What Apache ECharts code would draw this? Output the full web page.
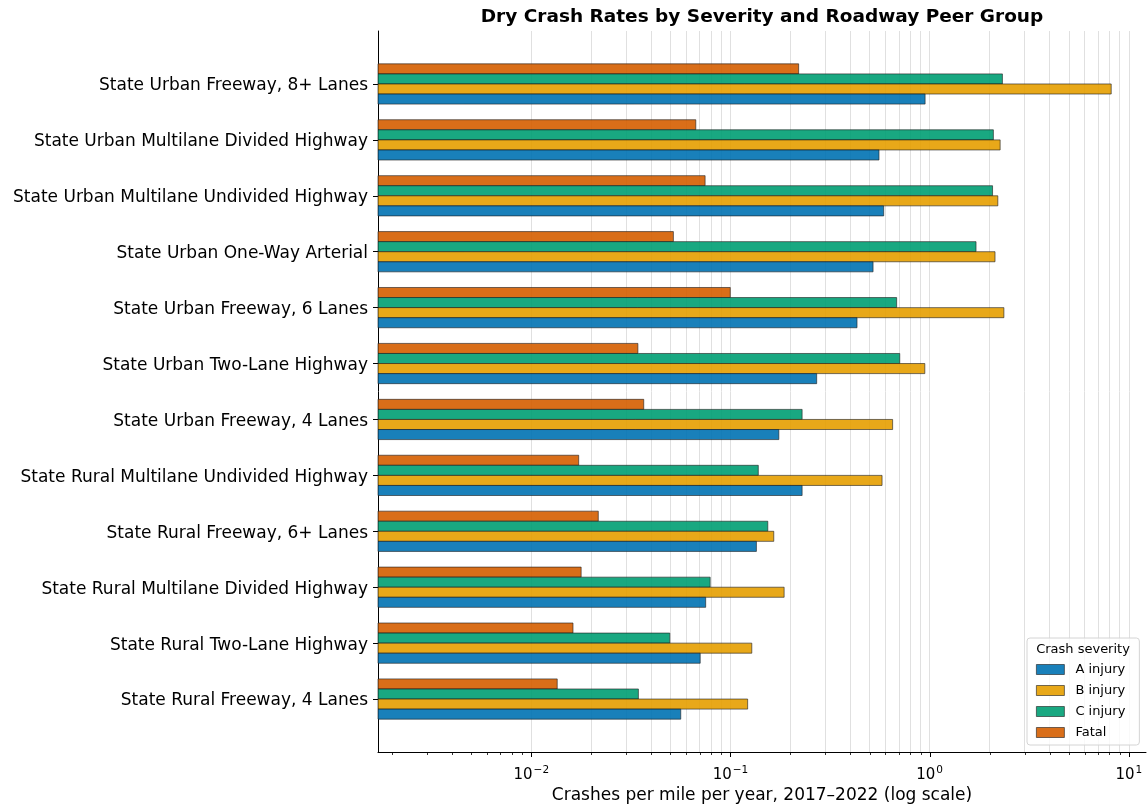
<!DOCTYPE html>
<html>
<head>
<meta charset="utf-8">
<script src="https://cdn.jsdelivr.net/npm/echarts@6/dist/echarts.min.js"></script>
<style>
  html, body { margin: 0; padding: 0; background: #fff; }
  #chart { width: 1148px; height: 805px; }
</style>
</head>
<body>
<div id="chart"></div>
<script>
// peer groups, top to bottom
const categories = [
  'State Urban Freeway, 8+ Lanes',
  'State Urban Multilane Divided Highway',
  'State Urban Multilane Undivided Highway',
  'State Urban One-Way Arterial',
  'State Urban Freeway, 6 Lanes',
  'State Urban Two-Lane Highway',
  'State Urban Freeway, 4 Lanes',
  'State Rural Multilane Undivided Highway',
  'State Rural Freeway, 6+ Lanes',
  'State Rural Multilane Divided Highway',
  'State Rural Two-Lane Highway',
  'State Rural Freeway, 4 Lanes'
]
const aInjury = [0.949, 0.557, 0.588, 0.520, 0.432, 0.271, 0.175, 0.229, 0.135, 0.0751, 0.0705, 0.0563]
const bInjury = [8.16, 2.26, 2.20, 2.13, 2.36, 0.946, 0.652, 0.577, 0.165, 0.186, 0.128, 0.122]
const cInjury = [2.32, 2.09, 2.07, 1.71, 0.683, 0.708, 0.229, 0.138, 0.154, 0.0791, 0.0496, 0.0345]
const fatal = [0.220, 0.067, 0.0746, 0.0517, 0.0998, 0.0343, 0.0367, 0.0173, 0.0217, 0.0178, 0.0162, 0.0135]
const severities = ['A injury', 'B injury', 'C injury', 'Fatal']

const xMin = 0.0017
const xMax = 12.2
const FONT = 'DejaVu Sans'

// gridline / minor tick positions (1..9 x 10^k)
const gridVals = []
for (let e = -3; e <= 1; e++) {
  for (let m = 1; m <= 9; m++) {
    const v = m * Math.pow(10, e)
    if (v >= xMin && v <= xMax) gridVals.push(v)
  }
}

const chart = echarts.init(document.getElementById('chart'))

// log axis bars in echarts grow from 1, so draw them from the axis start
// slot: 0 = top of the group ... 3 = bottom
function barSeries(name, data, color, slot) {
  return {
    name: name,
    type: 'custom',
    xAxisIndex: 0,
    yAxisIndex: 0,
    z: 3,
    silent: true,
    itemStyle: { color: color, opacity: 0.9 },
    encode: { x: 0, y: 1 },
    data: data.map((v, i) => [v, i]),
    renderItem: function (params, api) {
      const start = api.coord([xMin, api.value(1)])
      const end = api.coord([api.value(0), api.value(1)])
      const band = api.size([0, 1])[1]
      const h = band * 0.18
      const y = start[1] - 2 * h + slot * h
      return {
        type: 'rect',
        shape: { x: start[0], y: y, width: end[0] - start[0], height: h },
        style: {
          fill: api.visual('color'),
          opacity: 0.9,
          stroke: 'rgba(30,30,30,0.85)',
          lineWidth: 0.8
        }
      }
    }
  }
}

chart.setOption({
  animation: false,
  textStyle: { fontFamily: FONT },
  grid: [
    // bar area (categories)
    { left: 378, right: 2, top: 56, height: 671, outerBoundsMode: 'none' },
    // frame area (spines, x ticks)
    { left: 378, right: 2, top: 31, bottom: 53, outerBoundsMode: 'none' }
  ],
  legend: {
    orient: 'vertical',
    left: 1027,
    top: 638,
    padding: [25, 14, 6, 9],
    itemWidth: 28,
    itemHeight: 10,
    itemGap: 8,
    icon: 'rect',
    backgroundColor: 'rgba(255,255,255,0.8)',
    borderColor: '#d4d4d4',
    borderWidth: 1,
    borderRadius: 3,
    itemStyle: { borderColor: 'rgba(30,30,30,0.85)', borderWidth: 0.8 },
    data: severities,
    textStyle: { fontFamily: FONT, fontSize: 13, color: '#000', padding: [0, 0, 0, 6] }
  },
  xAxis: [
    {
      gridIndex: 0,
      type: 'log',
      min: xMin,
      max: xMax,
      show: false
    },
    {
      gridIndex: 1,
      type: 'log',
      min: xMin,
      max: xMax,
      axisLine: { show: true, lineStyle: { color: '#000', width: 1 } },
      axisTick: { show: false },
      splitLine: { show: false },
      axisLabel: {
        margin: 13,
        color: '#000',
        formatter: function (v) {
          const l = Math.log10(v)
          const e = Math.round(l)
          if (Math.abs(l - e) > 1e-6) return ''
          return '{b|10}{s|' + (e < 0 ? '\u2212' : '') + Math.abs(e) + '}'
        },
        rich: {
          b: { fontFamily: FONT, fontSize: 15, color: '#000' },
          s: { fontFamily: FONT, fontSize: 10.5, color: '#000', padding: [0, 0, 9, 1] }
        }
      },
      name: 'Crashes per mile per year, 2017\u20132022 (log scale)',
      nameLocation: 'middle',
      nameGap: 28,
      nameTextStyle: { fontFamily: FONT, fontSize: 17, color: '#000' }
    }
  ],
  yAxis: [
    {
      gridIndex: 0,
      type: 'category',
      inverse: true,
      data: categories,
      axisLine: { show: false },
      axisTick: { show: true, alignWithLabel: true, length: 5, lineStyle: { color: '#000' } },
      axisLabel: {
        margin: 10,
        formatter: v => '{a|' + v + '}',
        rich: { a: { fontFamily: FONT, fontSize: 17, color: '#000', padding: [4, 0, 0, 0] } }
      },
      splitLine: { show: false }
    },
    {
      gridIndex: 1,
      type: 'value',
      min: 0,
      max: 1,
      axisLine: { show: true, lineStyle: { color: '#000', width: 1 } },
      axisTick: { show: false },
      axisLabel: { show: false },
      splitLine: { show: false }
    }
  ],
  series: [
    {
      name: 'grid',
      type: 'line',
      xAxisIndex: 1,
      yAxisIndex: 1,
      data: [],
      z: 1,
      silent: true,
      markLine: {
        z: 1,
        silent: true,
        symbol: 'none',
        animation: false,
        label: { show: false },
        lineStyle: { color: '#e0e0e0', width: 1, type: 'solid' },
        data: gridVals.map(v => ({ xAxis: v }))
      }
    },
    barSeries('Fatal', fatal, '#D55E00', 0),
    barSeries('C injury', cInjury, '#009E73', 1),
    barSeries('B injury', bInjury, '#E69F00', 2),
    barSeries('A injury', aInjury, '#0072B2', 3)
  ]
})

// ticks on the x axis, title and legend title
const axisY = Math.round(chart.convertToPixel({ yAxisIndex: 1 }, 0))
const gfx = []
gridVals.forEach((v, i) => {
  const x = Math.round(chart.convertToPixel({ xAxisIndex: 1 }, v)) + 0.5
  const major = Math.abs(Math.log10(v) - Math.round(Math.log10(v))) < 1e-6
  gfx.push({
    type: 'line',
    id: 'tick' + i,
    silent: true,
    shape: { x1: x, y1: axisY, x2: x, y2: axisY + (major ? 5 : 3) },
    style: { stroke: '#000', lineWidth: major ? 1 : 0.8 }
  })
})
gfx.push({
  type: 'text',
  id: 'title',
  x: 762,
  y: 8,
  style: {
    text: 'Dry Crash Rates by Severity and Roadway Peer Group',
    fontFamily: FONT,
    fontSize: 18.5,
    fontWeight: 'bold',
    fill: '#000',
    align: 'center'
  }
})
gfx.push({
  type: 'text',
  id: 'legendTitle',
  z: 100,
  x: 1083,
  y: 643,
  style: {
    text: 'Crash severity',
    fontFamily: FONT,
    fontSize: 13,
    fill: '#000',
    align: 'center'
  }
})
chart.setOption({ graphic: gfx })
</script>
</body>
</html>
